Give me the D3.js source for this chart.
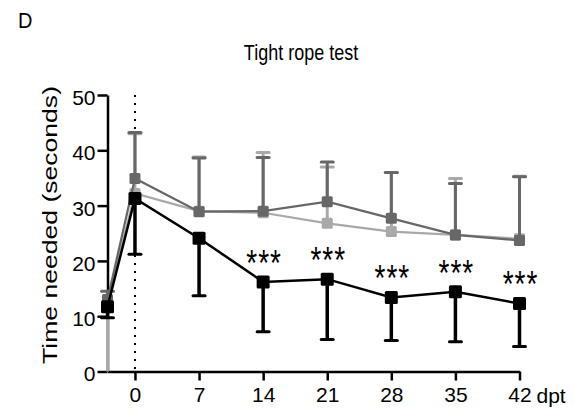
<!DOCTYPE html>
<html>
<head>
<meta charset="utf-8">
<script src="https://cdn.jsdelivr.net/npm/d3@7"></script>
<style>
  body { margin: 0; background: #fff; }
  svg { display: block; font-family: Arial, "Liberation Sans", Helvetica, sans-serif; }
</style>
</head>
<body>
<div id="chart"></div>
<script>
// data (days post injury, seconds)
const days = [-3, 0, 7, 14, 21, 28, 35, 42];
const xTicks = [0, 7, 14, 21, 28, 35, 42];
const yTicks = [0, 10, 20, 30, 40, 50];

// one-sided error bars: each series keeps the value where its bar ends
const lightMean = [12.5, 32.2, 29.0, 28.7, 26.8, 25.3, 24.7, 24.0];
const lightErrEnd = [0, 43.0, 38.8, 39.6, 37.0, 36.0, 34.9, 35.3];

const darkMean = [13.0, 34.9, 28.9, 29.0, 30.7, 27.7, 24.7, 23.7];
const darkErrEnd = [14.5, 43.2, 38.6, 38.7, 37.9, 36.0, 34.0, 35.2];

const blackMean = [11.7, 31.3, 24.1, 16.2, 16.7, 13.4, 14.4, 12.3];
const blackErrEnd = [9.7, 21.2, 13.7, 7.2, 5.8, 5.6, 5.4, 4.5];

const sigDays = [14, 21, 28, 35, 42];
const sigLabel = "***";

(function () {
  const width = 574;
  const height = 408;

  const svg = d3.select("#chart").append("svg")
    .attr("width", width)
    .attr("height", height);

  svg.append("rect")
    .attr("width", width)
    .attr("height", height)
    .attr("fill", "#fff");

  const x = d3.scaleLinear().domain([-3, 42]).range([107.5, 519.5]);
  const y = d3.scaleLinear().domain([0, 50]).range([371.5, 95]);

  // ---------- Texts ----------
  // the original figure is a bit stretched vertically, texts get a scaleY

  svg.append("text")
    .attr("transform", "translate(18, 28) scale(1, 1.1)")
    .style("font-size", "20px")
    .text("D");

  svg.append("text")
    .attr("transform", "translate(301, 60) scale(1, 1.22)")
    .attr("text-anchor", "middle")
    .style("font-size", "18px")
    .text("Tight rope test");

  svg.append("text")
    .attr("transform", `translate(57, 225) rotate(-90)`)
    .attr("text-anchor", "middle")
    .attr("textLength", 278)
    .attr("lengthAdjust", "spacingAndGlyphs")
    .style("font-size", "20px")
    .text("Time needed (seconds)");

  // ---------- Axes ----------

  const yAxis = svg.append("g")
    .attr("transform", `translate(${x(-3)}, 0)`)
    .call(d3.axisLeft(y).tickValues(yTicks).tickSize(10).tickSizeOuter(0).tickPadding(2));

  const xAxis = svg.append("g")
    .attr("transform", `translate(0, ${y(0)})`)
    .call(d3.axisBottom(x).tickValues(xTicks).tickSize(9).tickSizeOuter(0).tickPadding(7));

  [yAxis, xAxis].forEach(ax => {
    ax.select(".domain").attr("stroke", "#000").attr("stroke-width", 2.5);
    ax.selectAll(".tick line").attr("stroke", "#000").attr("stroke-width", 2.5);
    ax.selectAll(".tick text")
      .attr("fill", "#000")
      .style("font-size", "21px")
      .style("font-family", "Arial, 'Liberation Sans', Helvetica, sans-serif");
  });
  yAxis.selectAll(".tick text").attr("dy", "0.45em");

  svg.append("text")
    .attr("x", x(42) + 17)
    .attr("y", y(0) + 31)
    .style("font-size", "21px")
    .text("dpt");

  // dotted line at time of injury
  svg.append("line")
    .attr("x1", x(0)).attr("x2", x(0))
    .attr("y1", y(50)).attr("y2", y(0))
    .attr("stroke", "#000")
    .attr("stroke-width", 2)
    .attr("stroke-dasharray", "2,6");

  // ---------- Series ----------

  const series = [
    { mean: lightMean, err: lightErrEnd, color: "#a9a9a9", size: 11, lw: 2.2, ew: 3 },
    { mean: darkMean, err: darkErrEnd, color: "#676767", size: 11, lw: 2.2, ew: 3 },
    { mean: blackMean, err: blackErrEnd, color: "#000", size: 13, lw: 2.5, ew: 3.5 }
  ];

  const line = d3.line()
    .x(d => x(d.day))
    .y(d => y(d.value));

  series.forEach(s => {
    const pts = days.map((day, i) => ({ day, value: s.mean[i], end: s.err[i] }));
    const g = svg.append("g");

    g.selectAll("line.err")
      .data(pts)
      .join("line")
      .attr("class", "err")
      .attr("x1", d => x(d.day)).attr("x2", d => x(d.day))
      .attr("y1", d => y(d.value)).attr("y2", d => y(d.end))
      .attr("stroke", s.color)
      .attr("stroke-width", s.ew);

    g.selectAll("line.cap")
      .data(pts.filter(d => d.end > 0))
      .join("line")
      .attr("class", "cap")
      .attr("x1", d => x(d.day) - 6).attr("x2", d => x(d.day) + 6)
      .attr("y1", d => y(d.end)).attr("y2", d => y(d.end))
      .attr("stroke", s.color)
      .attr("stroke-width", 3)
      .attr("stroke-linecap", "round");

    g.append("path")
      .datum(pts)
      .attr("d", line)
      .attr("fill", "none")
      .attr("stroke", s.color)
      .attr("stroke-width", s.lw);

    g.selectAll("rect.pt")
      .data(pts)
      .join("rect")
      .attr("class", "pt")
      .attr("x", d => x(d.day) - s.size / 2)
      .attr("y", d => y(d.value) - s.size / 2)
      .attr("width", s.size)
      .attr("height", s.size)
      .attr("rx", 1.5)
      .attr("fill", s.color);
  });

  // ---------- Significance ----------

  svg.selectAll("text.sig")
    .data(sigDays)
    .join("text")
    .attr("class", "sig")
    .attr("transform", d => `translate(${x(d) + 1}, ${y(blackMean[days.indexOf(d)]) - 6}) scale(1, 1.3)`)
    .attr("text-anchor", "middle")
    .style("font-size", "28px")
    .style("letter-spacing", "1px")
    .text(sigLabel);
})();
</script>
</body>
</html>
